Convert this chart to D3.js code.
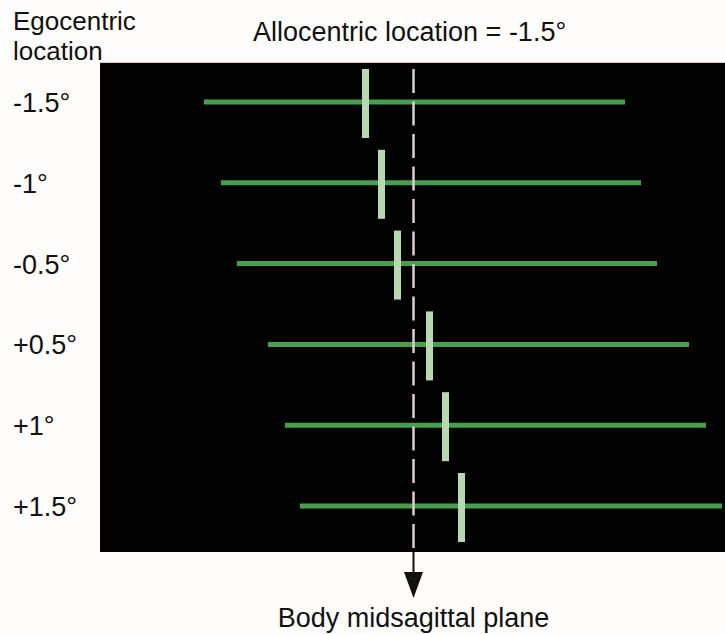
<!DOCTYPE html>
<html>
<head>
<meta charset="utf-8">
<script src="https://cdn.jsdelivr.net/npm/d3@7"></script>
<style>
  body { margin: 0; background: #fffdfb; }
  text { font-family: "Liberation Sans", Arial, sans-serif; fill: #111; }
</style>
</head>
<body>
<div id="wrapper"></div>
<script>
// Data (degrees)
const allocentric = -1.5;
const rowLabels = ["-1.5°", "-1°", "-0.5°", "+0.5°", "+1°", "+1.5°"];
const egocentric = [-1.5, -1, -0.5, 0.5, 1, 1.5];
const lineLeft = [-6.55, -6.02, -5.52, -4.55, -4.02, -3.55];
const lineRight = [6.61, 7.11, 7.61, 8.61, 9.14, 9.64];

const dimensions = {
  width: 725,
  height: 634,
  panel: { left: 100, top: 62, right: 725, bottom: 552 },
};
const fontSize = "27px";

const svg = d3
  .select("#wrapper")
  .append("svg")
  .attr("width", dimensions.width)
  .attr("height", dimensions.height);

// Scales
const xScale = d3.scaleLinear().domain([-10, 10]).range([93.5, 733.5]);
const yScale = d3.scalePoint().domain(rowLabels).range([102, 506]);

const rows = rowLabels.map((label, i) => ({
  label,
  ego: egocentric[i],
  left: lineLeft[i],
  right: lineRight[i],
}));

// Black panel
svg
  .append("rect")
  .attr("x", dimensions.panel.left)
  .attr("y", dimensions.panel.top)
  .attr("width", dimensions.panel.right - dimensions.panel.left)
  .attr("height", dimensions.panel.bottom - dimensions.panel.top)
  .attr("fill", "#020202");

svg
  .append("line")
  .attr("x1", dimensions.panel.left)
  .attr("x2", dimensions.panel.right)
  .attr("y1", dimensions.panel.top + 0.5)
  .attr("y2", dimensions.panel.top + 0.5)
  .attr("stroke", "#e9c4b4")
  .attr("stroke-width", 1);

// Green horizontal lines
svg
  .append("g")
  .selectAll("line")
  .data(rows)
  .join("line")
  .attr("x1", (d) => xScale(d.left))
  .attr("x2", (d) => xScale(d.right))
  .attr("y1", (d) => yScale(d.label))
  .attr("y2", (d) => yScale(d.label))
  .attr("stroke", "#479e4c")
  .attr("stroke-width", 5);

// Body midsagittal plane (dashed)
const mid = xScale(0);
svg
  .append("line")
  .attr("x1", mid)
  .attr("x2", mid)
  .attr("y1", 69)
  .attr("y2", dimensions.panel.bottom)
  .attr("stroke", "#dccdd0")
  .attr("stroke-width", 2.5)
  .style("stroke-dasharray", "24 8.5");

// Light vertical markers at egocentric location
svg
  .append("g")
  .selectAll("rect")
  .data(rows)
  .join("rect")
  .attr("x", (d) => xScale(d.ego) - 3.5)
  .attr("y", (d) => yScale(d.label) - 33)
  .attr("width", 7)
  .attr("height", 69)
  .attr("fill", "#b7d8b0");

// Arrow below panel
svg
  .append("line")
  .attr("x1", mid)
  .attr("x2", mid)
  .attr("y1", dimensions.panel.bottom)
  .attr("y2", 574)
  .attr("stroke", "#111")
  .attr("stroke-width", 2);

svg
  .append("path")
  .attr("d", `M${mid - 9.5},572 L${mid + 9.5},572 L${mid},598 Z`)
  .attr("fill", "#111");

// Row labels
svg
  .append("g")
  .selectAll("text")
  .data(rows)
  .join("text")
  .attr("x", 13)
  .attr("y", (d) => yScale(d.label) + 10)
  .style("font-size", fontSize)
  .text((d) => d.label);

// Titles
svg
  .append("text")
  .attr("x", 13)
  .attr("y", 30)
  .style("font-size", "26px")
  .text("Egocentric");

svg
  .append("text")
  .attr("x", 13)
  .attr("y", 60)
  .style("font-size", "26px")
  .text("location");

svg
  .append("text")
  .attr("x", 253)
  .attr("y", 41)
  .style("font-size", fontSize)
  .text(`Allocentric location = ${allocentric}°`);

svg
  .append("text")
  .attr("x", mid)
  .attr("y", 627)
  .style("font-size", fontSize)
  .style("text-anchor", "middle")
  .text("Body midsagittal plane");
</script>
</body>
</html>
